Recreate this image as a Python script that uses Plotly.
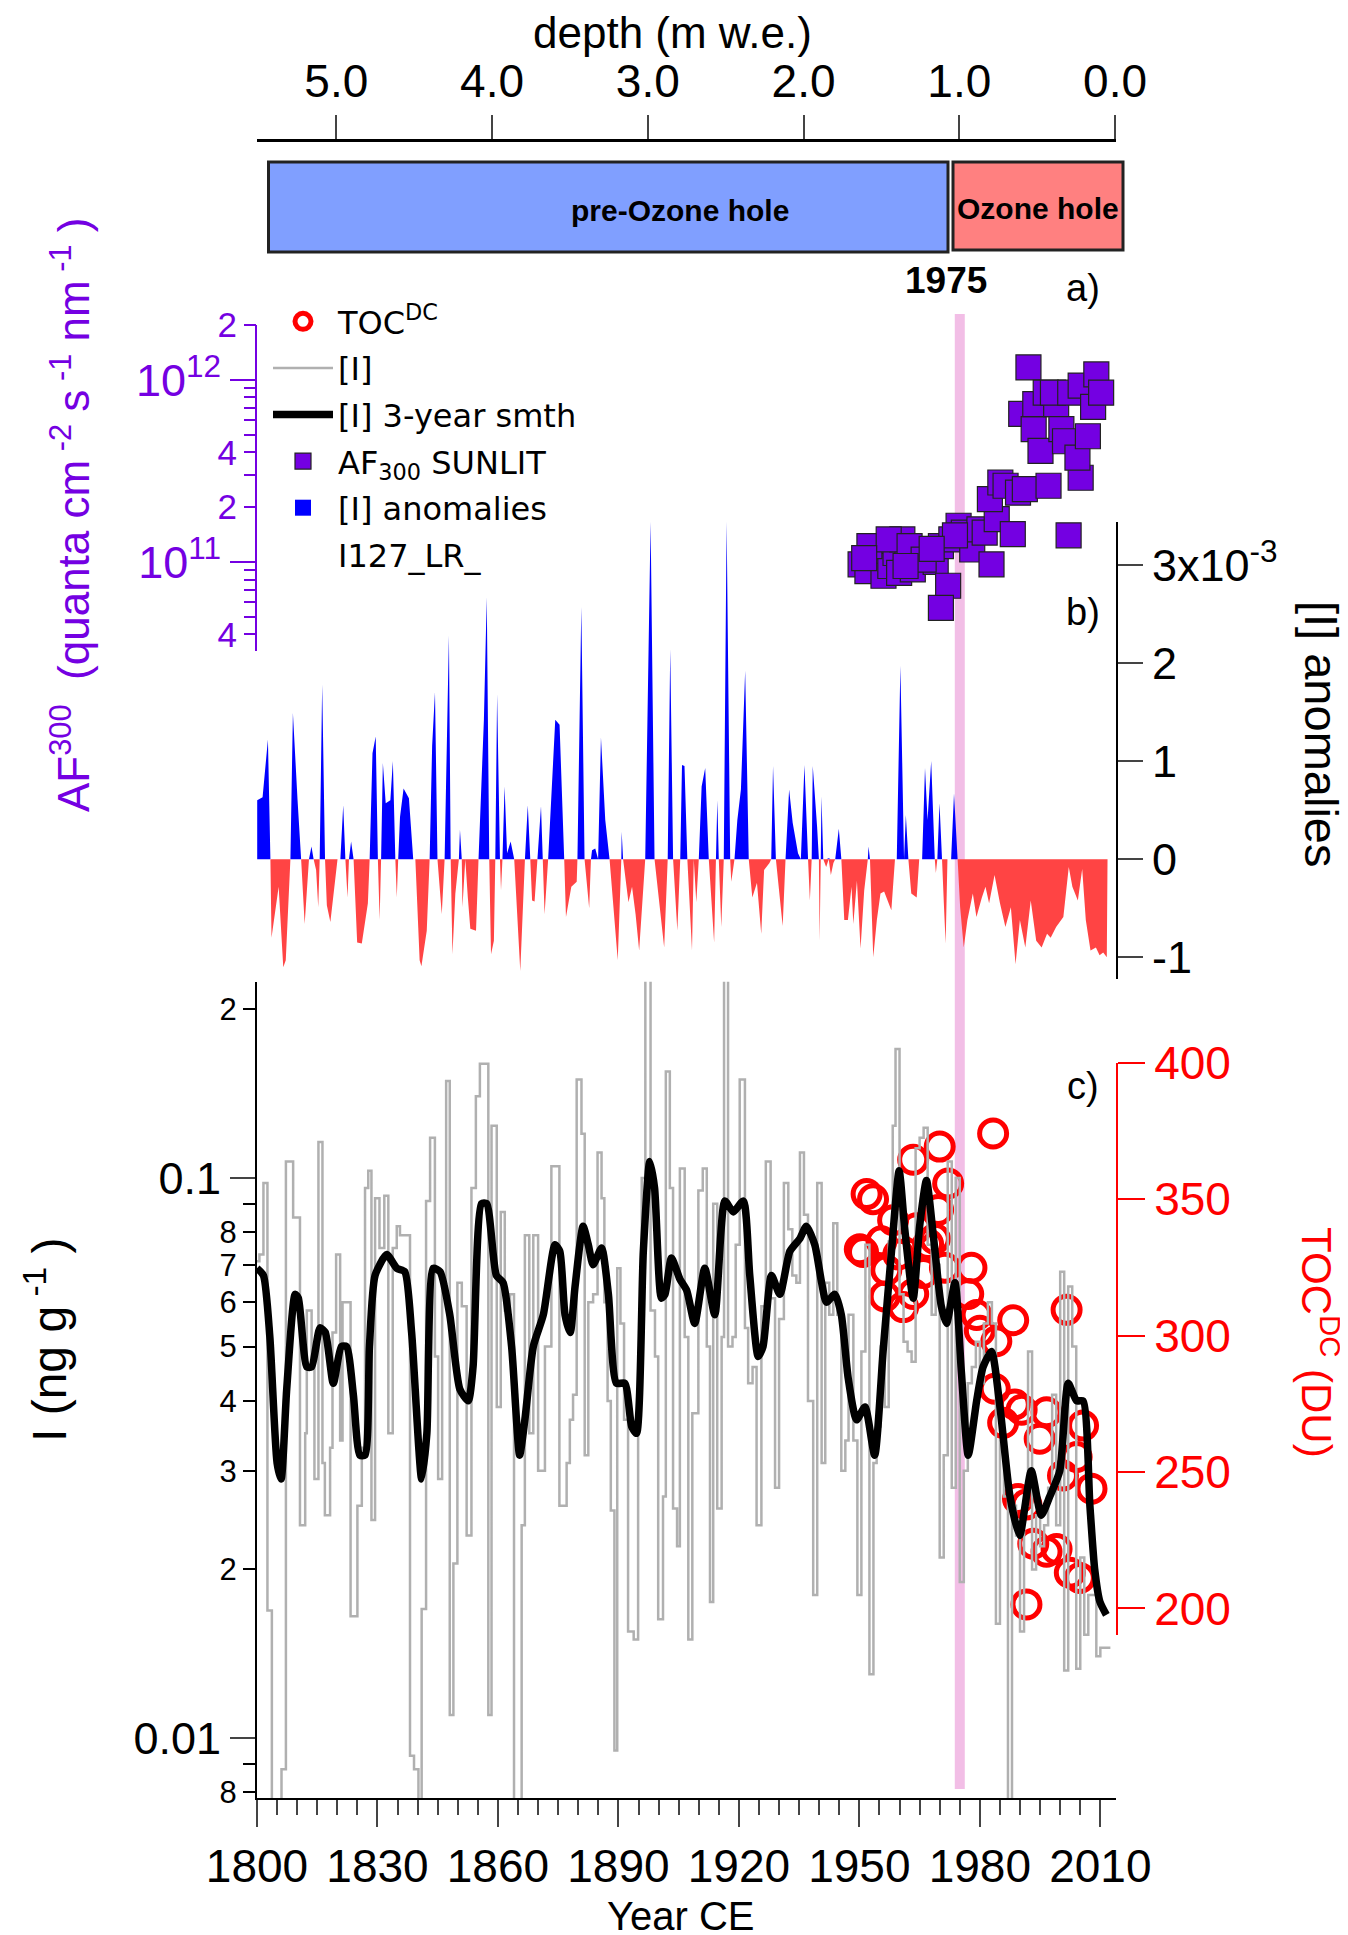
import plotly.graph_objects as go
import numpy as np

W, H = 1348, 1935


def px(x):
    return x / W


def py(y):
    return 1 - y / H


# ---- [I] raw record (step line), year where each step starts, ng/g
I_year = [1800.0, 1800.6, 1801.6, 1802.6, 1803.7, 1806.1, 1807.2, 1809.0, 1810.7, 1812.0,
          1812.4, 1813.6, 1814.3, 1815.3, 1816.3, 1816.9, 1818.2, 1818.8, 1819.7, 1820.7,
          1821.3, 1823.3, 1825.0, 1826.1, 1826.9, 1827.7, 1828.5, 1829.4, 1830.5, 1831.7,
          1832.7, 1833.8, 1834.8, 1835.6, 1838.1, 1839.1, 1840.2, 1841.0, 1842.1, 1843.1,
          1844.3, 1845.1, 1846.1, 1847.1, 1848.0, 1848.9, 1849.9, 1851.0, 1852.2, 1853.4,
          1854.5, 1855.5, 1857.6, 1858.4, 1859.7, 1860.7, 1861.7, 1863.0, 1864.0, 1865.9,
          1866.7, 1867.8, 1868.8, 1870.0, 1871.7, 1873.3, 1875.3, 1877.1, 1877.9, 1878.7,
          1879.6, 1880.8, 1881.6, 1882.5, 1883.7, 1884.8, 1885.8, 1886.5, 1887.3, 1888.1,
          1889.0, 1889.7, 1890.5, 1891.4, 1892.4, 1893.8, 1894.9, 1895.8, 1896.7, 1898.0,
          1899.1, 1899.9, 1901.1, 1901.8, 1902.8, 1903.6, 1904.6, 1905.3, 1906.5, 1907.4,
          1908.4, 1909.9, 1911.0, 1912.0, 1912.8, 1913.6, 1914.6, 1915.7, 1916.3, 1917.3,
          1918.4, 1919.2, 1920.2, 1921.5, 1922.3, 1923.4, 1924.4, 1925.6, 1926.7, 1927.9,
          1929.0, 1930.0, 1931.2, 1932.3, 1933.3, 1934.3, 1935.2, 1936.2, 1937.2, 1938.5,
          1939.5, 1940.6, 1941.5, 1942.5, 1943.5, 1944.5, 1945.5, 1946.5, 1947.3, 1948.5,
          1949.5, 1950.5, 1951.5, 1952.5, 1953.5, 1954.3, 1955.3, 1956.3, 1957.3, 1958.3,
          1959.0, 1960.0, 1961.0, 1962.0, 1963.0, 1964.0, 1965.0, 1966.0, 1967.0, 1968.0,
          1969.0, 1970.0, 1971.0, 1972.0, 1973.0, 1974.0, 1975.0, 1976.0, 1977.0, 1978.0,
          1979.0, 1980.0, 1981.0, 1982.0, 1983.0, 1984.0, 1985.0, 1986.0, 1987.0, 1988.0,
          1989.0, 1990.0, 1991.0, 1992.0, 1993.0, 1994.0, 1995.0, 1996.0, 1997.0, 1998.0,
          1999.0, 2000.0, 2001.0, 2002.0, 2003.0, 2004.0, 2005.0, 2006.0, 2007.0, 2008.0,
          2009.0, 2010.0, 2011.0, 2012.5]
I_val = [0.071, 0.073, 0.098, 0.0169, 0.007, 0.0088, 0.107, 0.085, 0.024, 0.035,
         0.058, 0.047, 0.029, 0.116, 0.031, 0.025, 0.033, 0.053, 0.073, 0.034,
         0.060, 0.0165, 0.026, 0.033, 0.096, 0.103, 0.0245, 0.092, 0.075, 0.093,
         0.035, 0.075, 0.082, 0.079, 0.0093, 0.0088, 0.007, 0.017, 0.091, 0.118,
         0.048, 0.029, 0.065, 0.149, 0.011, 0.0205, 0.065, 0.059, 0.023, 0.096,
         0.140, 0.160, 0.011, 0.124, 0.039, 0.087, 0.058, 0.062, 0.007, 0.024,
         0.079, 0.035, 0.079, 0.030, 0.050, 0.105, 0.026, 0.031, 0.037, 0.041,
         0.150, 0.120, 0.032, 0.060, 0.062, 0.111, 0.092, 0.060, 0.040, 0.0255,
         0.0095, 0.069, 0.055, 0.037, 0.0155, 0.015, 0.040, 0.100, 0.240, 0.058,
         0.048, 0.0163, 0.027, 0.155, 0.096, 0.0257, 0.022, 0.104, 0.052, 0.015,
         0.038, 0.095, 0.104, 0.050, 0.0175, 0.090, 0.0257, 0.052, 0.230, 0.050,
         0.052, 0.076, 0.150, 0.054, 0.043, 0.046, 0.024, 0.059, 0.107, 0.061,
         0.028, 0.056, 0.098, 0.081, 0.067, 0.065, 0.111, 0.086, 0.040, 0.018,
         0.098, 0.031, 0.065, 0.057, 0.083, 0.057, 0.030, 0.034, 0.057, 0.034,
         0.018, 0.049, 0.076, 0.013, 0.031, 0.036, 0.050, 0.039, 0.077, 0.124,
         0.170, 0.062, 0.051, 0.049, 0.047, 0.113, 0.118, 0.123, 0.076, 0.057,
         0.070, 0.021, 0.032, 0.107, 0.028, 0.100, 0.019, 0.030, 0.043, 0.046,
         0.051, 0.043, 0.055, 0.060, 0.055, 0.016, 0.034, 0.027, 0.006, 0.026,
         0.023, 0.0155, 0.026, 0.049, 0.020, 0.025, 0.022, 0.024, 0.028, 0.041,
         0.024, 0.068, 0.0132, 0.064, 0.050, 0.0133, 0.021, 0.0153, 0.018, 0.018,
         0.014, 0.0145, 0.0145, 0.0145]

# ---- [I] 3-year smoothed
smth_year = [1800.0, 1801.6, 1803.2, 1805.0, 1806.0, 1807.4, 1809.5, 1810.3, 1812.4, 1813.6,
             1815.7, 1817.0, 1819.0, 1821.0, 1822.3, 1824.0, 1825.6, 1826.9, 1828.0, 1829.4,
             1832.3, 1834.8, 1836.8, 1838.5, 1841.0, 1842.3, 1843.9, 1845.6, 1848.0, 1850.5,
             1852.6, 1853.8, 1855.9, 1857.2, 1859.6, 1861.3, 1863.4, 1865.4, 1866.7, 1868.8,
             1871.3, 1874.2, 1875.4, 1876.7, 1878.0, 1879.2, 1881.2, 1882.5, 1883.7, 1885.8,
             1887.5, 1889.5, 1891.6, 1893.3, 1894.5, 1896.2, 1897.8, 1899.0, 1900.7, 1901.6,
             1903.2, 1905.3, 1907.0, 1909.0, 1911.5, 1914.0, 1916.5, 1918.6, 1921.1, 1922.7,
             1924.8, 1926.0, 1928.1, 1930.2, 1932.7, 1935.2, 1936.8, 1938.9, 1940.6, 1941.8,
             1943.9, 1945.5, 1947.2, 1949.3, 1951.4, 1953.8, 1955.9, 1958.0, 1959.9, 1961.3,
             1963.4, 1965.0, 1966.7, 1968.4, 1970.4, 1971.7, 1973.8, 1975.4, 1977.1, 1979.2,
             1980.8, 1982.9, 1985.0, 1987.5, 1989.9, 1992.8, 1995.3, 1997.4, 1999.9, 2002.0,
             2004.1, 2005.7, 2007.4, 2008.6, 2009.9, 2011.5]
smth_val = [0.069, 0.067, 0.052, 0.031, 0.029, 0.042, 0.062, 0.061, 0.046, 0.046,
            0.054, 0.053, 0.043, 0.050, 0.050, 0.041, 0.032, 0.032, 0.050, 0.067,
            0.073, 0.069, 0.068, 0.053, 0.029, 0.035, 0.069, 0.068, 0.057, 0.042,
            0.040, 0.046, 0.090, 0.090, 0.067, 0.065, 0.050, 0.032, 0.037, 0.050,
            0.057, 0.076, 0.074, 0.057, 0.053, 0.064, 0.082, 0.076, 0.070, 0.075,
            0.062, 0.043, 0.043, 0.036, 0.035, 0.074, 0.107, 0.096, 0.061, 0.062,
            0.072, 0.066, 0.063, 0.055, 0.069, 0.057, 0.091, 0.087, 0.091, 0.067,
            0.048, 0.050, 0.067, 0.062, 0.074, 0.078, 0.082, 0.076, 0.065, 0.060,
            0.062, 0.057, 0.044, 0.037, 0.039, 0.032, 0.049, 0.074, 0.103, 0.081,
            0.061, 0.082, 0.099, 0.079, 0.059, 0.055, 0.065, 0.045, 0.032, 0.040,
            0.046, 0.049, 0.039, 0.027, 0.023, 0.030, 0.025, 0.027, 0.030, 0.043,
            0.040, 0.040, 0.026, 0.020, 0.0175, 0.0166]

# ---- [I] anomalies (x10^-3)
anom_year = [1800.05, 1801.39, 1802.72, 1803.34, 1803.61, 1805.39, 1806.54, 1807.16, 1808.32, 1808.94,
             1810.10, 1810.99, 1811.87, 1812.94, 1813.56, 1814.10, 1814.72, 1815.25, 1815.61, 1816.23,
             1816.94, 1817.39, 1818.27, 1820.05, 1820.76, 1821.47, 1822.01, 1822.54, 1822.90, 1823.43,
             1824.05, 1824.94, 1826.10, 1827.61, 1828.05, 1828.76, 1829.56, 1830.10, 1830.54, 1830.90,
             1831.34, 1832.05, 1833.21, 1833.83, 1834.45, 1834.81, 1835.16, 1835.61, 1836.50, 1837.83,
             1838.90, 1839.43, 1840.50, 1840.94, 1842.27, 1842.99, 1843.61, 1844.32, 1844.94, 1846.01,
             1846.72, 1847.79, 1848.23, 1848.67, 1849.39, 1850.27, 1850.54, 1850.99, 1851.16, 1851.87,
             1852.50, 1853.12, 1854.54, 1855.16, 1856.50, 1857.21, 1857.83, 1858.27, 1858.99, 1859.34,
             1859.79, 1860.50, 1860.76, 1861.12, 1861.65, 1862.27, 1863.16, 1864.05, 1865.56, 1866.72,
             1867.43, 1868.05, 1868.50, 1869.12, 1869.83, 1870.72, 1871.16, 1871.61, 1872.50, 1874.27,
             1875.34, 1876.50, 1876.94, 1878.27, 1879.61, 1879.79, 1880.76, 1881.56, 1882.72, 1883.16,
             1883.43, 1884.23, 1884.94, 1885.65, 1886.72, 1887.79, 1889.83, 1890.72, 1890.81, 1891.16,
             1892.50, 1893.39, 1894.27, 1895.16, 1896.67, 1898.01, 1898.99, 1901.39, 1902.27, 1902.90,
             1903.61, 1904.67, 1905.39, 1905.83, 1906.45, 1907.16, 1908.32, 1908.76, 1909.39, 1910.01,
             1910.72, 1911.61, 1912.50, 1913.83, 1914.28, 1914.63, 1914.99, 1915.61, 1916.23, 1916.94,
             1917.83, 1918.10, 1918.90, 1919.61, 1920.50, 1921.56, 1922.45, 1923.34, 1924.50, 1925.56,
             1926.27, 1927.61, 1928.05, 1928.50, 1929.21, 1930.90, 1931.61, 1932.50, 1933.39, 1934.72,
             1935.43, 1936.32, 1937.22, 1937.67, 1938.12, 1938.39, 1939.47, 1939.92, 1940.10, 1940.38,
             1940.56, 1941.01, 1941.73, 1942.36, 1942.90, 1943.53, 1943.98, 1944.88, 1945.51, 1946.24,
             1947.14, 1948.04, 1948.49, 1949.39, 1950.29, 1951.20, 1952.10, 1952.28, 1952.64, 1953.45,
             1954.35, 1955.25, 1956.16, 1957.96, 1958.86, 1959.31, 1960.21, 1961.12, 1961.57, 1962.20,
             1962.92, 1964.27, 1964.90, 1965.62, 1966.34, 1966.98, 1967.88, 1968.78, 1969.05, 1969.41,
             1969.95, 1970.58, 1971.03, 1971.48, 1971.93, 1972.84, 1973.56, 1974.46, 1975.09, 1975.99,
             1976.90, 1978.25, 1979.15, 1980.50, 1981.40, 1982.30, 1983.66, 1985.01, 1986.36, 1987.72,
             1988.89, 1989.97, 1991.32, 1992.67, 1994.03, 1995.38, 1996.73, 1997.63, 1998.99, 2000.79,
             2002.14, 2003.04, 2004.40, 2005.48, 2006.38, 2007.55, 2008.90, 2009.81, 2010.71, 2011.61,
             2011.79]
anom_val = [0.60, 0.63, 1.22, 0.0, -0.80, -0.28, -1.10, -1.03, 0.0, 1.49,
            0.60, 0.0, -0.66, 0.0, 0.13, 0.0, -0.11, -0.49, 0.0, 1.78,
            0.0, -0.47, -0.64, 0.0, 0.0, 0.55, 0.0, -0.39, 0.0, 0.18,
            0.0, -0.85, -0.86, -0.45, 0.0, 1.08, 1.25, 0.0, -0.62, 0.0,
            0.98, 0.57, 0.60, 1.00, 0.0, -0.39, 0.0, 0.43, 0.72, 0.62,
            0.0, 0.0, -1.03, -1.09, -0.73, 0.0, 1.15, 1.70, 0.0, -0.56,
            0.0, 2.28, 0.0, -0.97, -0.35, 0.0, 0.30, 0.0, -0.49, 0.0,
            -0.39, -0.71, -0.73, 0.0, 1.42, 2.67, 0.0, -0.97, -0.83, 0.0,
            1.68, 0.0, -0.32, 0.0, 0.74, 0.06, 0.18, 0.0, -1.14, 0.0,
            0.55, 0.0, -0.42, -0.43, 0.0, 0.54, 0.0, -0.56, 0.0, 1.42,
            1.37, 0.0, -0.59, -0.28, -0.23, 0.0, 2.57, 0.0, -0.50, 0.0,
            0.09, 0.11, 0.0, 1.24, 0.40, 0.0, -1.03, 0.0, 0.28, 0.0,
            -0.44, -0.28, -0.56, -0.93, 0.0, 3.44, 0.0, -0.90, 0.0, 2.14,
            0.0, -0.73, 0.0, 0.96, 0.95, 0.0, -0.93, 0.0, -0.44, 0.0,
            0.74, 0.93, 0.0, -0.85, 0.0, 0.60, 0.0, -0.69, 0.0, 3.44,
            0.0, -0.23, 0.0, 0.40, 0.71, 1.92, 0.0, -0.39, -0.24, -0.76,
            -0.11, -0.04, 0.0, 0.95, 0.0, -0.68, 0.0, 0.71, 0.37, 0.06,
            0.0, 0.96, 0.0, -0.42, 0.0, 0.95, 0.33, 0.0, -0.83, 0.0,
            0.64, 0.0, -0.08, 0.01, -0.16, -0.04, 0.0, 0.31, 0.0, -0.62,
            -0.62, -0.28, -0.66, -0.22, -0.91, -0.32, 0.0, 0.13, 0.0, -1.00,
            -0.62, -0.35, -0.33, -0.52, 0.0, 0.0, 1.97, 0.0, 0.45, 0.0,
            -0.35, -0.39, 0.0, 0.0, 0.93, 0.40, 1.00, 0.0, -0.14, 0.0,
            0.57, 0.0, -0.45, -0.86, 0.0, 0.0, 0.67, 0.0, -0.49, -0.90,
            -0.62, -0.35, -0.59, -0.39, -0.28, -0.45, -0.16, -0.45, -0.69, -0.49,
            -1.07, -0.62, -0.90, -0.42, -0.83, -0.90, -0.76, -0.80, -0.69, -0.59,
            -0.08, -0.28, -0.42, -0.10, -0.62, -0.93, -0.90, -0.98, -0.95, -1.00,
            0.0]

# ---- AF300 SUNLIT (quanta cm-2 s-1 nm-1)
af_year = [1950.3, 1952.0, 1953.8, 1955.1, 1956.0, 1957.7, 1959.0, 1960.7, 1959.9, 1962.0,
           1963.3, 1965.1, 1967.3, 1969.0, 1970.3, 1972.1, 1970.3, 1972.9, 1974.7, 1976.0,
           1978.1, 1979.9, 1981.2, 1982.9, 1984.2, 1988.2, 1982.5, 1985.1, 1986.4, 1989.5,
           1991.2, 1997.1, 2002.1, 2005.1, 1992.1, 1990.3, 1993.4, 1995.1, 1993.8, 1996.4,
           1999.0, 1998.2, 2000.3, 2001.2, 2002.5, 2004.3, 2005.1, 2006.9, 2008.2, 2009.0,
           2010.2, 1952.5, 1957.3, 1962.5, 1966.0, 1973.8, 1951.2, 1961.5, 1968.0]
af_val = [9.7e10, 8.9e10, 1.12e11, 1.22e11, 8.4e10, 9.5e10, 1.12e11, 1.33e11, 8.7e10, 1.12e11,
          9.1e10, 1.17e11, 1.12e11, 1.0e11, 1.22e11, 7.4e10, 5.6e10, 1.33e11, 1.58e11, 1.45e11,
          1.17e11, 1.51e11, 1.45e11, 9.7e10, 1.72e11, 1.42e11, 2.21e11, 2.73e11, 2.62e11, 2.4e11,
          2.51e11, 2.62e11, 1.4e11, 2.9e11, 1.17e12, 6.5e11, 5.36e11, 4.07e11, 7.35e11, 8.5e11,
          7.35e11, 8.5e11, 5.36e11, 4.6e11, 8.5e11, 3.74e11, 9.3e11, 4.9e11, 7.1e11, 1.07e12,
          8.5e11, 1.22e11, 1.33e11, 1.22e11, 1.03e11, 1.4e11, 1.05e11, 9.5e10, 1.18e11]

# ---- TOC DC (DU)
toc_year = [1950.1, 1950.9, 1951.8, 1953.4, 1955.5, 1956.7, 1956.3, 1958.4, 1959.7, 1963.4,
            1960.9, 1963.4, 1964.2, 1965.9, 1967.1, 1970.0, 1969.6, 1972.1, 1971.3, 1968.8,
            1977.9, 1977.1, 1979.2, 1983.3, 1980.0, 1988.3, 1984.1, 1983.7, 1985.8, 1988.7,
            1990.4, 1996.6, 1994.9, 1991.6, 1989.5, 1993.3, 1996.6, 1999.1, 2002.4, 2004.9,
            2001.6, 2005.7, 2004.1, 2007.8, 2000.7, 1991.6]
toc_val = [331.6, 330.6, 351.8, 349.9, 334.5, 323.9, 314.3, 342.2, 329.7, 364.4,
           310.4, 315.2, 339.3, 322.9, 333.5, 369.2, 346.0, 355.7, 324.8, 335.4,
           324.8, 315.2, 307.5, 374.0, 301.7, 305.6, 297.9, 280.5, 268.0, 274.7,
           272.8, 271.9, 262.2, 201.5, 240.1, 223.7, 220.8, 221.8, 213.1, 211.2,
           309.4, 267.0, 255.5, 243.9, 248.7, 238.1]

ozone_year = 1975
depth_ticks = [5.0, 4.0, 3.0, 2.0, 1.0, 0.0]

FONT = "Liberation Sans, Arial, sans-serif"
LEGEND_FONT = "DejaVu Sans, sans-serif"
PURPLE = "#7400E2"
RED = "#FF0000"

# split anomalies into positive / negative fills
anom = np.array(anom_val)
anom_pos = np.clip(anom, 0, None)
anom_neg = np.clip(anom, None, 0)

fig = go.Figure()

# TOC circles first so the [I] lines sit above them
fig.add_trace(go.Scatter(
    x=toc_year, y=toc_val, mode='markers', name='TOC<sup>DC</sup>', legendgroup='g1',
    marker=dict(symbol='circle-open', size=27, color=RED, line=dict(width=5, color=RED)),
    xaxis='x', yaxis='y', cliponaxis=False))

fig.add_trace(go.Scatter(
    x=I_year, y=I_val, mode='lines', name='[I]', line_shape='hv', legendgroup='g2',
    line=dict(color='rgb(176,176,176)', width=2.5),
    xaxis='x', yaxis='y2'))

fig.add_trace(go.Scatter(
    x=smth_year, y=smth_val, mode='lines', name='[I] 3-year smth', legendgroup='g3',
    line=dict(color='black', width=7.5, shape='spline', smoothing=0.6),
    xaxis='x', yaxis='y2'))

fig.add_trace(go.Scatter(
    x=anom_year, y=anom_pos, mode='none', showlegend=False, fill='tozeroy',
    fillcolor='#0000FF', xaxis='x', yaxis='y3', legendgroup='g5'))
fig.add_trace(go.Scatter(
    x=anom_year, y=anom_neg, mode='none', showlegend=False, fill='tozeroy',
    fillcolor='#FF4444', xaxis='x', yaxis='y3', legendgroup='g5'))

fig.add_trace(go.Scatter(
    x=af_year, y=af_val, mode='markers', name='AF<sub>300</sub> SUNLIT', legendgroup='g4',
    marker=dict(symbol='square', size=25, color=PURPLE, line=dict(width=1.2, color='#222222')),
    xaxis='x', yaxis='y4', cliponaxis=False))

# legend-only entries
fig.add_trace(go.Scatter(
    x=[None], y=[None], mode='markers', name='[I] anomalies', legendgroup='g5',
    marker=dict(symbol='square', size=20, color='#0000FF'), xaxis='x', yaxis='y3'))
fig.add_trace(go.Scatter(
    x=[None], y=[None], mode='markers', name='I127_LR_', legendgroup='g6',
    marker=dict(color='rgba(0,0,0,0)', size=1), xaxis='x', yaxis='y3'))

# carriers for the extra tick axes
for xa, ya in [('x2', 'y2'), ('x', 'y5'), ('x', 'y6')]:
    fig.add_trace(go.Scatter(x=[None], y=[None], mode='markers', showlegend=False,
                             hoverinfo='skip', xaxis=xa, yaxis=ya))

axis_common = dict(showgrid=False, zeroline=False, ticks='outside', tickwidth=2,
                   showline=True, linewidth=2, automargin=False)
tick_only = dict(ticks='outside', tickwidth=2, showline=False, showgrid=False,
                 zeroline=False, automargin=False)

fig.update_layout(
    width=W, height=H,
    margin=dict(l=0, r=0, t=0, b=0, autoexpand=False),
    paper_bgcolor='white', plot_bgcolor='rgba(0,0,0,0)',
    font=dict(family=FONT, color='black'),
    xaxis=dict(domain=[px(249), px(1108)], range=[1800, 2013.9], anchor='y2',
               tickmode='linear', tick0=1800, dtick=30, ticklen=27,
               minor=dict(dtick=5, tick0=1800, ticklen=15, tickwidth=2, ticks='outside'),
               tickfont=dict(size=46), linecolor='black', **axis_common),
    xaxis2=dict(overlaying='x', side='top', anchor='free', position=py(132),
                range=[5.509, -0.006], tickvals=depth_ticks,
                ticktext=['%.1f' % d for d in depth_ticks], ticklen=24,
                tickfont=dict(size=46), linecolor='black', showgrid=False, zeroline=False,
                ticks='outside', tickwidth=2, showline=True, linewidth=3, automargin=False),
    # TOC (right, red)
    yaxis=dict(domain=[py(1626.7), py(1054.5)], range=[190.4, 400], anchor='x', side='right',
               tickvals=[200, 250, 300, 350, 400], ticklen=27, tickcolor=RED,
               tickfont=dict(size=46, color=RED), linecolor=RED, **axis_common),
    # [I] (left, log)
    yaxis2=dict(domain=[py(1790), py(973.7)], type='log', range=[-2.107, -0.6495],
                anchor='x', side='left', tickvals=[0.01, 0.1], ticktext=['0.01', '0.1'],
                ticklen=25, tickfont=dict(size=45), linecolor='black', **axis_common),
    # anomalies (right)
    yaxis3=dict(domain=[py(971), py(514)], range=[-1.221, 3.436], anchor='x', side='right',
                tickvals=[-1, 0, 1, 2, 3], ticktext=['-1', '0', '1', '2', '3x10<sup>-3</sup>'],
                ticklen=25, tickfont=dict(size=45), linecolor='black', **axis_common),
    # AF300 (left, log, purple)
    yaxis4=dict(domain=[py(643), py(317)], type='log', range=[10.511, 12.301],
                anchor='x', side='left', tickvals=[1e11, 1e12],
                ticktext=['10<sup>11</sup>', '10<sup>12</sup>'], ticklen=25, tickcolor=PURPLE,
                tickfont=dict(size=45, color=PURPLE), linecolor=PURPLE, **axis_common),
    yaxis5=dict(overlaying='y4', anchor='x', side='left', type='log', range=[10.511, 12.301],
                tickvals=[4e10, 2e11, 4e11, 2e12], ticktext=['4', '2', '4', '2'],
                ticklen=12, tickcolor=PURPLE, tickfont=dict(size=35, color=PURPLE),
                minor=dict(tickvals=[5e10, 6e10, 7e10, 8e10, 9e10, 3e11, 5e11, 6e11,
                                     7e11, 8e11, 9e11],
                           ticks='outside', ticklen=12, tickwidth=2, tickcolor=PURPLE),
                **tick_only),
    yaxis6=dict(overlaying='y2', anchor='x', side='left', type='log', range=[-2.107, -0.6495],
                tickvals=[0.008, 0.02, 0.03, 0.04, 0.05, 0.06, 0.07, 0.08, 0.2],
                ticktext=['8', '2', '3', '4', '5', '6', '7', '8', '2'],
                ticklen=13, tickcolor='black', tickfont=dict(size=31),
                minor=dict(tickvals=[0.009, 0.09], ticks='outside', ticklen=13,
                           tickwidth=2, tickcolor='black'),
                **tick_only),
    legend=dict(x=px(260), y=py(286), xanchor='left', yanchor='top',
                font=dict(family=LEGEND_FONT, size=32),
                bgcolor='rgba(0,0,0,0)', itemwidth=60, tracegroupgap=2,
                traceorder='grouped'),
    showlegend=True,
)

shapes = [
    dict(type='line', xref='x', yref='paper', x0=ozone_year, x1=ozone_year,
         y0=py(1781), y1=py(306), line=dict(color='rgb(242,190,230)', width=10), layer='below'),
    dict(type='rect', xref='paper', yref='paper', x0=px(260.5), x1=px(940),
         y0=py(244), y1=py(154), fillcolor='#809FFF', line=dict(color='#222222', width=3)),
    dict(type='rect', xref='paper', yref='paper', x0=px(945), x1=px(1115),
         y0=py(242), y1=py(154), fillcolor='#FF8080', line=dict(color='#222222', width=3)),
]
fig.update_layout(shapes=shapes)


def note(text, x, y, size, color='black', angle=0, bold=False):
    if bold:
        text = '<b>' + text + '</b>'
    fig.add_annotation(text=text, x=px(x), y=py(y), xref='paper', yref='paper',
                       showarrow=False, textangle=angle, xanchor='center', yanchor='middle',
                       font=dict(size=size, color=color, family=FONT))


note('depth (m w.e.)', 664, 25, 44)
note('pre-Ozone hole', 672, 202, 30, bold=True)
note('Ozone hole', 1030, 200, 30, bold=True)
note('1975', 938, 272, 37, bold=True)
note('a)', 1075, 280, 38)
note('b)', 1075, 604, 38)
note('c)', 1075, 1078, 38)
note('Year CE', 673, 1908, 40)
note('I (ng g<sup> -1</sup> )', 38, 1332, 48, angle=-90)
note('AF<sup>300</sup>  (quanta cm<sup> -2</sup> s<sup> -1</sup> nm<sup> -1</sup> )', 62, 507, 44,
     color=PURPLE, angle=-90)
note('[I] anomalies', 1314, 726, 47, angle=90)
note('TOC<sup>DC</sup> (DU)', 1312, 1334, 42, color=RED, angle=90)

fig.write_html("out.html")
